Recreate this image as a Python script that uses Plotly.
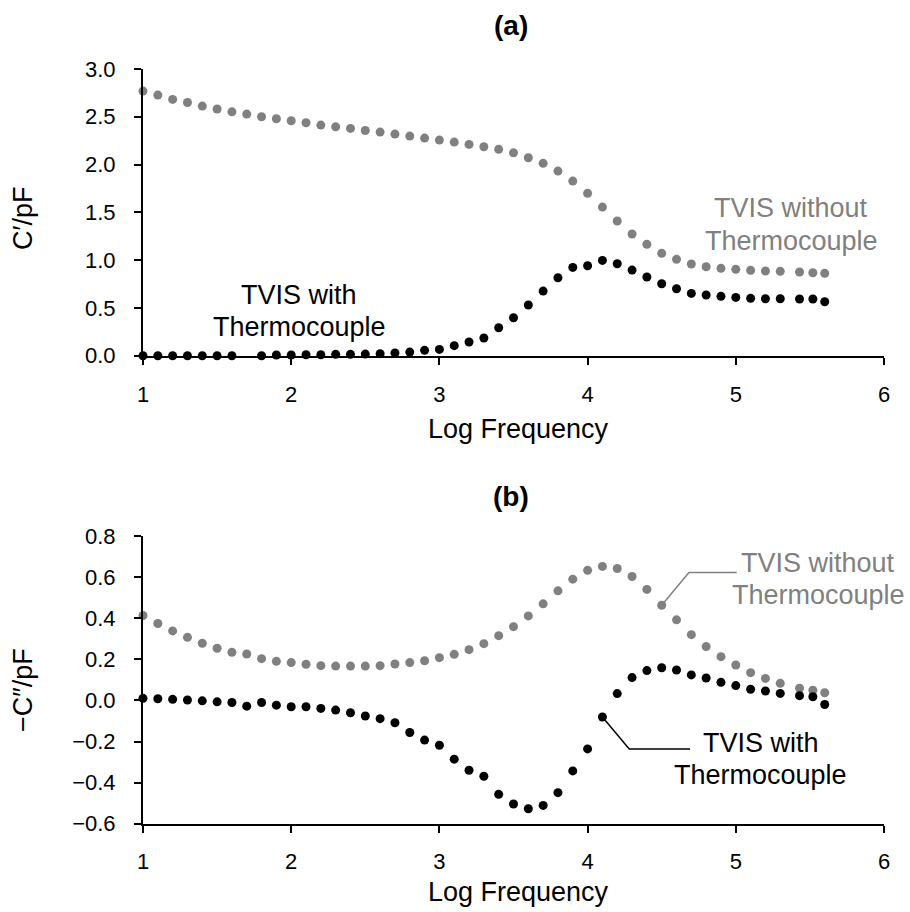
import plotly.graph_objects as go

# ---------------- data ----------------
log_freq = [1.0, 1.1, 1.2, 1.3, 1.4, 1.5, 1.6, 1.7, 1.8, 1.9,
            2.0, 2.1, 2.2, 2.3, 2.4, 2.5, 2.6, 2.7, 2.8, 2.9,
            3.0, 3.1, 3.2, 3.3, 3.4, 3.5, 3.6, 3.7, 3.8, 3.9,
            4.0, 4.1, 4.2, 4.3, 4.4, 4.5, 4.6, 4.7, 4.8, 4.9,
            5.0, 5.1, 5.2, 5.3, 5.43, 5.52, 5.6]

# (a) C'/pF
c_real_without = [2.769, 2.727, 2.682, 2.650, 2.612, 2.581, 2.552, 2.528, 2.500, 2.479,
                  2.458, 2.437, 2.413, 2.395, 2.378, 2.357, 2.340, 2.319, 2.298, 2.277,
                  2.256, 2.235, 2.211, 2.186, 2.159, 2.123, 2.071, 2.013, 1.932, 1.827,
                  1.699, 1.555, 1.409, 1.273, 1.165, 1.071, 1.008, 0.959, 0.931, 0.914,
                  0.904, 0.893, 0.886, 0.883, 0.876, 0.868, 0.862]
c_real_with = [0.0, 0.0, 0.0, 0.0, 0.0, 0.0, 0.0, None, 0.0, 0.007,
               0.007, 0.010, 0.010, 0.014, 0.014, 0.017, 0.021, 0.028, 0.038, 0.056,
               0.066, 0.105, 0.143, 0.185, 0.293, 0.397, 0.530, 0.676, 0.816, 0.924,
               0.941, 0.997, 0.962, 0.896, 0.823, 0.753, 0.701, 0.652, 0.635, 0.621,
               0.610, 0.600, 0.596, 0.596, 0.593, 0.593, 0.565]

# (b) -C''/pF
c_imag_without = [0.413, 0.374, 0.338, 0.307, 0.278, 0.254, 0.234, 0.226, 0.203, 0.190,
                  0.184, 0.176, 0.169, 0.167, 0.167, 0.167, 0.169, 0.177, 0.184, 0.193,
                  0.208, 0.224, 0.247, 0.276, 0.315, 0.359, 0.411, 0.470, 0.533, 0.590,
                  0.633, 0.652, 0.642, 0.603, 0.540, 0.463, 0.392, 0.320, 0.262, 0.213,
                  0.172, 0.135, 0.107, 0.083, 0.059, 0.050, 0.037]
c_imag_with = [0.010, 0.008, 0.005, 0.002, -0.002, -0.007, -0.010, -0.028, -0.010, -0.023,
               -0.031, -0.031, -0.039, -0.047, -0.060, -0.076, -0.089, -0.109, -0.156, -0.193,
               -0.218, -0.286, -0.340, -0.369, -0.457, -0.504, -0.527, -0.511, -0.449, -0.343,
               -0.236, -0.081, 0.033, 0.111, 0.145, 0.159, 0.148, 0.124, 0.109, 0.088,
               0.072, 0.054, 0.046, 0.034, 0.023, 0.018, -0.020]

x_ticks = [1, 2, 3, 4, 5, 6]
y_ticks_a = [0.0, 0.5, 1.0, 1.5, 2.0, 2.5, 3.0]
y_ticks_b = [-0.6, -0.4, -0.2, 0.0, 0.2, 0.4, 0.6, 0.8]

label_with = ["TVIS with", "Thermocouple"]
label_without = ["TVIS without", "Thermocouple"]

# ---------------- style ----------------
W, H = 910, 912
FONT = "Liberation Sans, Arial, sans-serif"
GRAY = "#808080"
BLACK = "#000000"
TICK_FS = 22
TITLE_FS = 27
PANEL_FS = 28
ANN_FS = 27

fig = go.Figure()

def add_series(y, color, xa, ya):
    fig.add_trace(go.Scatter(
        x=log_freq, y=y, mode="markers", xaxis=xa, yaxis=ya,
        marker=dict(size=9, color=color, line=dict(width=0)),
        cliponaxis=False, showlegend=False, hoverinfo="x+y"))

add_series(c_real_without, GRAY, "x", "y")
add_series(c_real_with, BLACK, "x", "y")
add_series(c_imag_without, GRAY, "x2", "y2")
add_series(c_imag_with, BLACK, "x2", "y2")

# plot areas in pixels
XL, XR = 143, 884
A_T, A_B = 69, 355.7
B_T, B_B = 536, 823.7

def px_x(p):
    return p / W

def px_y(p):
    return 1 - p / H

axis_common = dict(showgrid=False, zeroline=False, showline=True, linecolor=BLACK,
                   linewidth=2, ticks="outside", ticklen=7, tickwidth=2, tickcolor=BLACK,
                   automargin=False,
                   tickfont=dict(family=FONT, size=TICK_FS, color=BLACK))

fig.update_layout(
    width=W, height=H,
    margin=dict(l=0, r=0, t=0, b=0, autoexpand=False),
    paper_bgcolor="white", plot_bgcolor="white",
    font=dict(family=FONT, color=BLACK),
    xaxis=dict(domain=[px_x(XL), px_x(XR)], range=[1, 6], tickvals=x_ticks,
               anchor="y", ticklabelstandoff=11, **axis_common),
    yaxis=dict(domain=[px_y(A_B), px_y(A_T)], range=[0, 3], tickvals=y_ticks_a,
               tickformat=".1f", anchor="x", ticklabelstandoff=14, **axis_common),
    xaxis2=dict(domain=[px_x(XL), px_x(XR)], range=[1, 6], tickvals=x_ticks,
                anchor="y2", ticklabelstandoff=10, **axis_common),
    yaxis2=dict(domain=[px_y(B_B), px_y(B_T)], range=[-0.6, 0.8], tickvals=y_ticks_b,
                tickformat=".1f", anchor="x2", ticklabelstandoff=14, **axis_common),
)

anns = []
# panel titles
for txt, yc in [("<b>(a)</b>", 25), ("<b>(b)</b>", 497)]:
    anns.append(dict(text=txt, xref="paper", yref="paper", x=px_x(511), y=px_y(yc),
                     xanchor="center", yanchor="middle", showarrow=False,
                     font=dict(family=FONT, size=PANEL_FS, color=BLACK)))
# axis titles
for txt, xc, yc, ang in [("Log Frequency", 518, 429, 0), ("Log Frequency", 518, 892, 0),
                         ("C′/pF", 23, 218, -90), ("−C″/pF", 23, 690, -90)]:
    anns.append(dict(text=txt, xref="paper", yref="paper", x=px_x(xc), y=px_y(yc),
                     xanchor="center", yanchor="middle", textangle=ang, showarrow=False,
                     font=dict(family=FONT, size=TITLE_FS, color=BLACK)))

def label(lines, xa, ya, x, y1, y2, color):
    for t, yy in zip(lines, [y1, y2]):
        anns.append(dict(text=t, xref=xa, yref=ya, x=x, y=yy, showarrow=False,
                         xanchor="center", yanchor="middle",
                         font=dict(family=FONT, size=ANN_FS, color=color)))

label(label_with, "x", "y", 2.053, 0.635, 0.300, BLACK)
label(label_without, "x", "y", 5.373, 1.545, 1.200, GRAY)
label(label_without, "x2", "y2", 5.555, 0.670, 0.514, GRAY)
label(label_with, "x2", "y2", 5.170, -0.208, -0.364, BLACK)
fig.update_layout(annotations=anns)

# leader lines in panel (b), starting at the labelled data points
def leader(idx, series, kink, end_x, color):
    x0, y0 = log_freq[idx], series[idx]
    fig.add_shape(type="path", xref="x2", yref="y2",
                  path=f"M {x0},{y0} L {kink[0]},{kink[1]} L {end_x},{kink[1]}",
                  line=dict(color=color, width=1.5), layer="below")

leader(log_freq.index(4.5), c_imag_without, (4.684, 0.622), 5.006, GRAY)
leader(log_freq.index(4.1), c_imag_with, (4.281, -0.236), 4.691, BLACK)

fig.write_html("out.html")
